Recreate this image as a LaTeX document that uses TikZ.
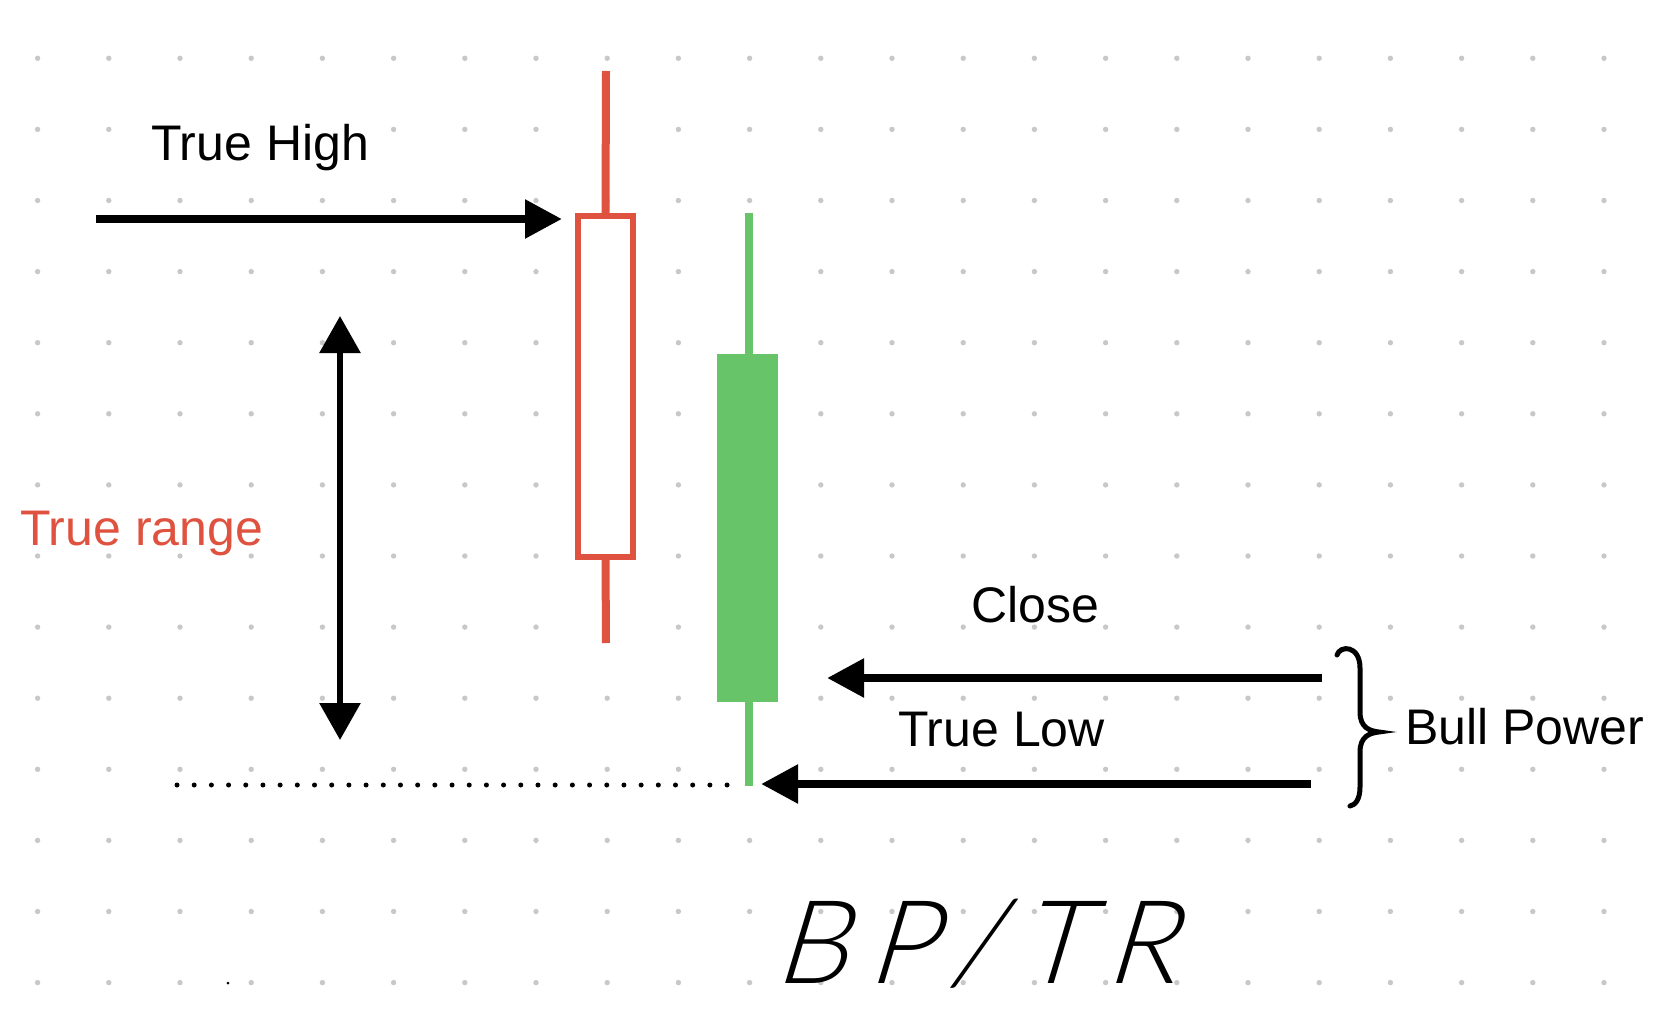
\documentclass[tikz,border=0pt]{standalone}
\usepackage{fontspec}
\setmainfont{Liberation Sans}
\newfontfamily\handfont[LetterSpace=17, FakeSlant=0.3]{Lato Light}
\usetikzlibrary{positioning,arrows.meta}
\definecolor{candlered}{RGB}{224,82,64}
\definecolor{candlegreen}{RGB}{104,196,105}
\definecolor{griddot}{RGB}{200,200,200}

\begin{document}
\begin{tikzpicture}[x=1pt, y=-1pt,
    lbl/.style={inner sep=0pt, anchor=base west, font=\fontsize{50}{60}\selectfont},
    bigarrow/.style={-{Triangle[length=37pt, width=37pt]}, line width=8.5pt},
    wick/.style={line width=8pt}]
  \useasboundingbox (0,0) rectangle (1676,1016);
  \fill[white] (0,0) rectangle (1676,1016);
  % dot grid
  \foreach \i in {0,...,22}
    \foreach \j in {0,...,13}
      \fill[griddot] (37.6+71.2*\i, 58.3+71.1*\j) circle (2.7pt);
  \fill (228,983) circle (1.5pt);

  % red candle
  \coordinate (redhigh) at (606,71);
  \coordinate (redlow) at (606,643);
  \node (redbody) [draw=candlered, fill=white, line width=6pt, minimum width=55pt, minimum height=341pt, inner sep=0pt] at (605.5,386.5) {};
  \draw[wick, candlered] (redhigh) -- (redbody.north);
  \draw[wick, candlered] (redbody.south) -- (redlow);

  % green candle
  \coordinate (greenhigh) at (749,213);
  \coordinate (greenlow) at (749,786);
  \draw[wick, candlegreen] (greenhigh) -- (greenlow);
  \node (greenbody) [fill=candlegreen, minimum width=61pt, minimum height=348pt, inner sep=0pt] at (747.5,528) {};

  % labels
  \node (high) [lbl, fill=white] at (151,161) {True High};
  \node (range) [lbl, text=candlered] at (20,545) {True range};
  \node (close) [lbl] at (971,622) {Close};
  \node (low) [lbl] at (898,746) {True Low};
  \node (bull) [lbl] at (1405,744) {Bull Power};
  \node (ratio) [lbl, font=\handfont\fontsize{116}{130}\selectfont] at (773,983) {BP/TR};

  % arrows
  \coordinate (hightail) at (96,219);
  \coordinate (hightip) at (562,219);
  \draw[bigarrow] (hightail) -- (hightip);
  \coordinate (closetail) at (1322,678);
  \coordinate (closetip) at (827,678);
  \draw[bigarrow] (closetail) -- (closetip);
  \coordinate (lowtail) at (1311,784);
  \coordinate (lowtip) at (761,784);
  \draw[bigarrow] (lowtail) -- (lowtip);
  \coordinate (rangetop) at (340,316);
  \coordinate (rangebot) at (340,740);
  \draw[{Triangle[length=37pt, width=40pt]}-{Triangle[length=37pt, width=40pt]}, line width=6pt] (rangetop) -- (rangebot);

  % dotted level of the true low
  \coordinate (levelstart) at (177,785);
  \coordinate (levelend) at (729,785);
  \draw[line width=5pt, line cap=round, dash pattern=on 0pt off 17.19pt] (levelstart) -- (levelend);

  % brace
  \draw[line width=5pt, line cap=round] (1337,655) .. controls (1340,645) and (1360,645) .. (1360,668)
    -- (1360,712) .. controls (1360,728) and (1370,731) .. (1379,732)
    .. controls (1370,733) and (1360,736) .. (1360,752)
    -- (1360,787) .. controls (1360,800) and (1355,805) .. (1350,806);
\end{tikzpicture}
\end{document}
